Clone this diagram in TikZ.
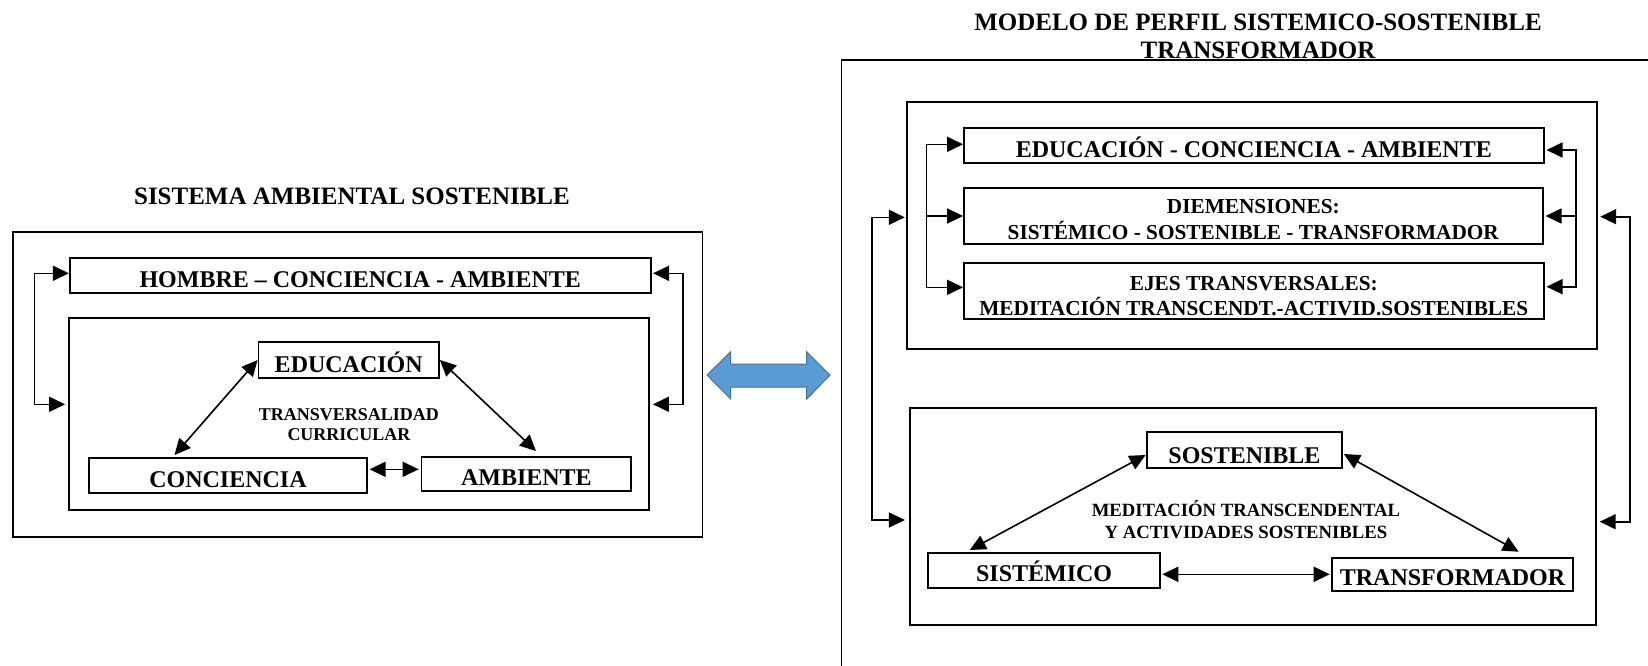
\documentclass[tikz,border=0pt]{standalone}
\usepackage{fontspec}
\setmainfont{Liberation Serif}
\usetikzlibrary{arrows.meta}
\newcommand{\twolines}[2]{\begin{tabular}{@{}c@{}}#1\\#2\end{tabular}}
\newcommand{\dn}[2]{\raisebox{-#1}[\height][\depth]{#2}}
\begin{document}
\begin{tikzpicture}[x=1pt,y=-1pt,
  box/.style={draw, line width=1.8pt, inner sep=0pt, align=center,
    font=\bfseries\fontsize{24}{28}\selectfont},
  frame/.style={draw, line width=1.8pt, inner sep=0pt},
  lbl/.style={inner sep=0pt, align=center},
  arr/.style={line width=1.6pt, -{Triangle[length=16pt,width=15pt]}},
  dbl/.style={line width=1.6pt, {Triangle[length=16pt,width=15pt]}-{Triangle[length=16pt,width=15pt]}},
  bigarrow/.style={fill={rgb,255:red,91;green,155;blue,213}, draw={rgb,255:red,65;green,113;blue,156}, line width=1pt}
]
\useasboundingbox (0,0) rectangle (1648,665);

% ---------------- LEFT ----------------
\node[lbl, font=\bfseries\fontsize{25}{30}\selectfont] (ltitle) at (352,196) {SISTEMA AMBIENTAL SOSTENIBLE};
\node[frame, minimum width=689.5pt, minimum height=305pt] (outerL) at (357.75,384.35) {};
\node[box, minimum width=580.8pt, minimum height=35pt] (hombre) at (360.2,275.8) {\dn{4pt}{HOMBRE -- CONCIENCIA - AMBIENTE}};
\node[frame, minimum width=580pt, minimum height=192.3pt] (innerL) at (359,413.85) {};
\node[box, minimum width=180.5pt, minimum height=35.4pt] (edu) at (348.75,360) {\dn{2pt}{EDUCACIÓN}};
\node[box, minimum width=278.7pt, minimum height=34.4pt] (conc) at (227.95,475.5) {\dn{4pt}{CONCIENCIA}};
\node[box, minimum width=209.8pt, minimum height=33.7pt] (amb) at (526.4,474.15) {\dn{3pt}{AMBIENTE}};
\node[lbl, font=\bfseries\fontsize{18}{20}\selectfont] (transv) at (349,425) {TRANSVERSALIDAD\\CURRICULAR};

\coordinate (ll1) at (34.4,273.3);
\coordinate (ll2) at (34.4,404.3);
\draw[dbl] (hombre.west |- ll1) -- (ll1) -- (ll2) -- ([xshift=-3pt]innerL.west |- ll2);
\coordinate (rl1) at (683.2,273.3);
\coordinate (rl2) at (683.2,404.3);
\draw[dbl] ([xshift=1.5pt]hombre.east |- rl1) -- (rl1) -- (rl2) -- ([xshift=3pt]innerL.east |- rl2);

\coordinate (ce) at (174.5,455);
\coordinate (ae) at (536,451);
\draw[dbl] (edu.west) -- (ce);
\draw[dbl] (edu.east) -- (ae);
\coordinate (ca) at (369.6,469.3);
\coordinate (ac) at (418.7,469.3);
\draw[dbl] (ca) -- (ac);

% blue double arrow
\draw[bigarrow] (707,375) -- (730.7,351.7) -- (730.7,364) -- (806.7,364) -- (806.7,351.7)
  -- (830,375) -- (806.7,399) -- (806.7,387) -- (730.7,387) -- (730.7,399) -- cycle;

% ---------------- RIGHT ----------------
\node[lbl, font=\bfseries\fontsize{25}{28.3}\selectfont] (rtitle) at (1258,36) {MODELO DE PERFIL SISTEMICO-SOSTENIBLE\\TRANSFORMADOR};
\draw[line width=1.8pt] (841.5,670) -- (841.5,60) -- (1655,60);

\node[frame, minimum width=690.1pt, minimum height=247.6pt] (upper) at (1251.75,225.5) {};
\node[box, minimum width=579.6pt, minimum height=35pt] (eca) at (1253.8,145.2) {\dn{2pt}{EDUCACIÓN - CONCIENCIA - AMBIENTE}};
\node[box, minimum width=578.6pt, minimum height=56.6pt, font=\bfseries\fontsize{21.3}{22.5}\selectfont] (diem) at (1253.3,216) {\dn{6pt}{\twolines{DIEMENSIONES:}{SISTÉMICO - SOSTENIBLE - TRANSFORMADOR}}};
\node[box, minimum width=579.6pt, minimum height=56.3pt, font=\bfseries\fontsize{21.3}{22}\selectfont] (ejes) at (1253.8,290.85) {\dn{8pt}{\twolines{EJES TRANSVERSALES:}{MEDITACIÓN TRANSCENDT.-ACTIVID.SOSTENIBLES}}};

\coordinate (il1) at (926.5,144.3);
\coordinate (il2) at (926.5,216);
\coordinate (il3) at (926.5,287.3);
\draw[dbl] (eca.west |- il1) -- (il1) -- (il3) -- (ejes.west |- il3);
\draw[arr] (il2) -- (diem.west |- il2);
\coordinate (ir1) at (1576,150);
\coordinate (ir2) at (1576,216);
\coordinate (ir3) at (1576,286.7);
\draw[dbl] ([xshift=2pt]eca.east |- ir1) -- (ir1) -- (ir3) -- ([xshift=2pt]ejes.east |- ir3);
\draw[arr] (ir2) -- ([xshift=2pt]diem.east |- ir2);

\node[frame, minimum width=686pt, minimum height=216.7pt] (lower) at (1252.8,516.65) {};
\node[box, minimum width=195.7pt, minimum height=36pt] (sost) at (1244.45,450.3) {\dn{5pt}{SOSTENIBLE}};
\node[box, minimum width=232.2pt, minimum height=34.4pt] (sist) at (1044.1,570.5) {\dn{1pt}{SISTÉMICO}};
\node[box, minimum width=241.5pt, minimum height=33pt] (trans) at (1452.55,574.2) {\dn{3pt}{TRANSFORMADOR}};
\node[lbl, font=\bfseries\fontsize{18.7}{21.7}\selectfont] (med) at (1246,519.5) {MEDITACIÓN TRANSCENDENTAL\\Y ACTIVIDADES SOSTENIBLES};

\coordinate (ol1) at (871.7,217.3);
\coordinate (ol2) at (871.7,520);
\draw[dbl] ([xshift=-1pt]upper.west |- ol1) -- (ol1) -- (ol2) -- ([xshift=-4pt]lower.west |- ol2);
\coordinate (or1) at (1629.7,216.7);
\coordinate (or2) at (1629.7,521.7);
\draw[dbl] ([xshift=2.5pt]upper.east |- or1) -- (or1) -- (or2) -- ([xshift=3pt]lower.east |- or2);

\coordinate (s1) at (1145.6,455);
\coordinate (s2) at (969.8,550);
\draw[dbl] (s1) -- (s2);
\coordinate (t1) at (1343.8,454);
\coordinate (t2) at (1518.6,551.7);
\draw[dbl] (t1) -- (t2);
\coordinate (st1) at (1162.3,574.3);
\coordinate (st2) at (1329.7,574.3);
\draw[dbl] (st1) -- (st2);
\end{tikzpicture}
\end{document}
